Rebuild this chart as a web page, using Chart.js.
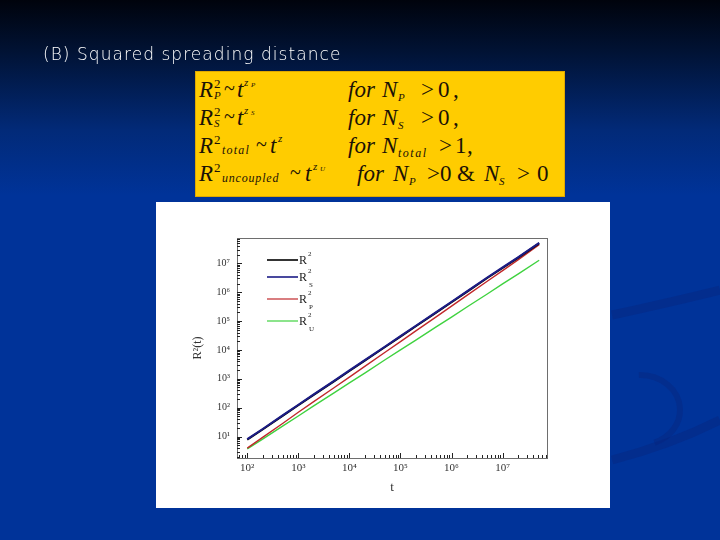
<!DOCTYPE html>
<html>
<head>
<meta charset="utf-8">
<script src="https://cdn.jsdelivr.net/npm/chart.js@4.4.1/dist/chart.umd.min.js"></script>
<style>
  html, body { margin:0; padding:0; }
  body { width:720px; height:540px; overflow:hidden; position:relative;
    background: linear-gradient(to bottom, #00030c 0px, #011233 50px, #022a78 130px, #003399 195px, #003399 540px); }
  #deco { position:absolute; left:0; top:0; }
  #title { position:absolute; left:43px; top:44px; color:#fff; font-family:"DejaVu Sans", sans-serif; font-weight:200; font-size:17px; letter-spacing:1.05px; white-space:nowrap; }
  #box { position:absolute; left:195px; top:71px; width:368px; height:124px; background:#ffcc00; border:1px solid #e0a800; }
  .tk { position:absolute; font-family:"Liberation Serif", serif; color:#1b1206; line-height:1; white-space:nowrap; }
  #panel { position:absolute; left:156px; top:202px; width:454px; height:306px; background:#fff; }
</style>
</head>
<body>
<canvas id="deco" width="720" height="540"></canvas>
<div id="title">(B) Squared spreading distance</div>
<div id="box"></div>
<div id="panel"><canvas id="c" width="454" height="306"></canvas></div>
<script>
// ---- data ----
const times = [100, 200, 500, 1e3, 2e3, 5e3, 1e4, 2e4, 5e4, 1e5, 2e5, 5e5, 1e6, 2e6, 5e6, 1e7, 2e7, 5.2e7];
const R2total = [7.8, 17.5, 53, 121, 277, 817, 1870, 4290, 12700, 29000, 66400, 196000, 449000, 1.03e6, 3.11e6, 6.95e6, 1.56e7, 4.95e7];
const R2S = [8.1, 18.2, 55, 126, 288, 851, 1950, 4470, 13200, 30200, 69200, 204000, 468000, 1.07e6, 3.24e6, 7.24e6, 1.62e7, 5.13e7];
const R2P = [3.98, 9.33, 28.8, 69.2, 162, 490, 1150, 2690, 8320, 19500, 45700, 141000, 331000, 776000, 2.40e6, 5.62e6, 1.32e7, 4.47e7];
const R2U = [3.72, 8.13, 23.4, 51.3, 115, 324, 724, 1580, 4570, 10000, 21900, 63100, 138000, 309000, 871000, 1.95e6, 4.27e6, 1.29e7];
const seriesNames = ['R²', 'R²S', 'R²P', 'R²U'];
const legendSup = ['2', '2', '2', '2'];
const legendSub = ['', 'S', 'P', 'U'];
const xTicks = [1e2, 1e3, 1e4, 1e5, 1e6, 1e7];
const yTicks = [1e1, 1e2, 1e3, 1e4, 1e5, 1e6, 1e7];
const xTickLabels = ['10²', '10³', '10⁴', '10⁵', '10⁶', '10⁷'];
const yTickLabels = ['10¹', '10²', '10³', '10⁴', '10⁵', '10⁶', '10⁷'];

// ---- formula box text: [text, left, baseline, size, italic, letterSpacing] ----
const formulaTokens = [
  ['R',199,97,23,1],['2',214,88,13,0],['P',214,99,11,1],['~',224,95,20,0],['t',237,97,23,1],['z',244,86,11,1],['P',251,88,7,1],
  ['for',348,97,23,1],['N',382,97,23,1],['P',398,101,11,1],['>',421,97,23,0],['0',438,97,23,0],[',',453,97,23,0],
  ['R',199,125,23,1],['2',214,116,13,0],['S',214,127,11,1],['~',224,123,20,0],['t',237,125,23,1],['z',244,114,11,1],['S',251,116,7,1],
  ['for',348,125,23,1],['N',382,125,23,1],['S',398,129,11,1],['>',421,125,23,0],['0',438,125,23,0],[',',453,125,23,0],
  ['R',199,153,23,1],['2',214,144,13,0],['total',222,154,12,1,1.2],['~',256,151,20,0],['t',270,153,23,1],['z',278,142,11,1],
  ['for',348,153,23,1],['N',382,153,23,1],['total',398,157,12,1,1.5],['>',439,153,23,0],['1',455,153,23,0],[',',467,153,23,0],
  ['R',199,181,23,1],['2',214,172,13,0],['uncoupled',222,182,12,1,0.8],['~',290,179,20,0],['t',305,181,23,1],['z',313,170,11,1],['U',320,172,7,1],
  ['for',357,181,23,1],['N',393,181,23,1],['P',409,185,11,1],['>',427,181,23,0],['0',440,181,23,0],['&',457,181,23,0],
  ['N',484,181,23,1],['S',499,185,11,1],['>',517,181,23,0],['0',537,181,23,0]
];
formulaTokens.forEach(tk => {
  const el = document.createElement('div');
  el.className = 'tk';
  el.textContent = tk[0];
  el.style.left = tk[1] + 'px';
  el.style.fontSize = tk[3] + 'px';
  el.style.top = (tk[2] - 0.8375 * tk[3]) + 'px';
  if (tk[4]) el.style.fontStyle = 'italic';
  if (tk[5]) el.style.letterSpacing = tk[5] + 'px';
  document.body.appendChild(el);
});

// ---- background decoration ----
(function(){
  const d = document.getElementById('deco').getContext('2d');
  d.strokeStyle = 'rgba(10,35,120,0.35)';
  d.lineWidth = 9;
  d.beginPath(); d.moveTo(612, 315); d.quadraticCurveTo(680, 300, 720, 290); d.stroke();
  d.beginPath(); d.moveTo(612, 460); d.quadraticCurveTo(670, 445, 720, 420); d.stroke();
  d.lineWidth = 6;
  d.beginPath(); d.ellipse(640, 410, 40, 35, 0, -1.6, 1.2); d.stroke();
})();

const colors = ['#000000', '#1c1c86', '#c0282a', '#3fd23f'];
const widths = [2, 2, 1.4, 1.4];
const drawOrder = [1, 0, 2, 3];
const seriesData = [R2total, R2S, R2P, R2U];

const framePlugin = {
  id: 'frame',
  afterDatasetsDraw(chart) {
    const ctx = chart.ctx, a = chart.chartArea;
    const xs = chart.scales.x, ys = chart.scales.y;
    ctx.save();
    ctx.strokeStyle = '#6e6e6e'; ctx.lineWidth = 1;
    ctx.strokeRect(Math.round(a.left)+0.5, Math.round(a.top)+0.5, Math.round(a.right-a.left), Math.round(a.bottom-a.top));
    ctx.strokeStyle = '#222';
    for (let e = 0; e <= 8; e++) {
      for (let k = 1; k <= 9; k++) {
        const v = k * Math.pow(10, e);
        if (v < ys.min || v > ys.max) continue;
        const p = Math.round(ys.getPixelForValue(v)) + 0.5;
        const L = k === 1 ? 5 : 3;
        ctx.beginPath(); ctx.moveTo(a.left, p); ctx.lineTo(a.left + L, p); ctx.stroke();
      }
    }
    for (let e = 1; e <= 8; e++) {
      for (let k = 1; k <= 9; k++) {
        const v = k * Math.pow(10, e);
        if (v < xs.min || v > xs.max) continue;
        const p = Math.round(xs.getPixelForValue(v)) + 0.5;
        const L = k === 1 ? 5 : 3;
        ctx.beginPath(); ctx.moveTo(p, a.bottom); ctx.lineTo(p, a.bottom - L); ctx.stroke();
      }
    }
    // legend
    const ly = [22, 39, 61, 83];
    for (let i = 0; i < seriesNames.length; i++) {
      const y = a.top + ly[i];
      ctx.strokeStyle = colors[i]; ctx.lineWidth = i < 2 ? 1.6 : 1.2;
      ctx.beginPath(); ctx.moveTo(a.left + 30, y); ctx.lineTo(a.left + 61, y); ctx.stroke();
      ctx.fillStyle = '#222';
      ctx.font = '12px "Liberation Serif", serif';
      ctx.textBaseline = 'middle'; ctx.textAlign = 'left';
      ctx.fillText('R', a.left + 62, y + 1);
      ctx.font = '7px "Liberation Serif", serif';
      ctx.fillText(legendSup[i], a.left + 71, y - 6);
      if (legendSub[i]) ctx.fillText(legendSub[i], a.left + 72, y + 8);
    }
    ctx.restore();
  }
};

new Chart(document.getElementById('c'), {
  type: 'line',
  data: {
    datasets: seriesData.map((arr, i) => ({
      label: seriesNames[i],
      data: times.map((t, j) => ({ x: t, y: arr[j] })),
      borderColor: colors[i],
      borderWidth: widths[i],
      order: drawOrder[i],
      pointRadius: 0,
      tension: 0,
      fill: false
    }))
  },
  options: {
    responsive: false,
    animation: false,
    devicePixelRatio: 1,
    layout: { padding: { left: 35, right: 63, top: 36, bottom: 13 } },
    plugins: { legend: { display: false }, tooltip: { enabled: false } },
    scales: {
      x: {
        type: 'logarithmic', min: 63, max: 7.4e7,
        afterBuildTicks: s => { s.ticks = xTicks.map(v => ({ value: v, major: true })); },
        afterFit: s => { s.height = 37; },
        ticks: {
          autoSkip: false, maxRotation: 0, padding: 4, color: '#333',
          font: { family: '"Liberation Serif", serif', size: 11 },
          callback: (v) => { const i = xTicks.indexOf(v); return i >= 0 ? xTickLabels[i] : ''; }
        },
        grid: { display: false, drawTicks: false },
        border: { display: false },
        title: { display: true, text: 't', color: '#333', padding: { top: 2, bottom: 0 },
          font: { family: '"Liberation Serif", serif', size: 13 } }
      },
      y: {
        type: 'logarithmic', min: 1.8, max: 7.6e7,
        afterBuildTicks: s => { s.ticks = yTicks.map(v => ({ value: v, major: true })); },
        afterFit: s => { s.width = 46; },
        ticks: {
          autoSkip: false, padding: 7, color: '#333',
          font: { family: '"Liberation Serif", serif', size: 10 },
          callback: (v) => { const i = yTicks.indexOf(v); return i >= 0 ? yTickLabels[i] : ''; }
        },
        grid: { display: false, drawTicks: false },
        border: { display: false },
        title: { display: true, text: 'R²(t)', color: '#333', padding: { top: 0, bottom: 0 },
          font: { family: '"Liberation Serif", serif', size: 12 } }
      }
    }
  },
  plugins: [framePlugin]
});
</script>
</body>
</html>
